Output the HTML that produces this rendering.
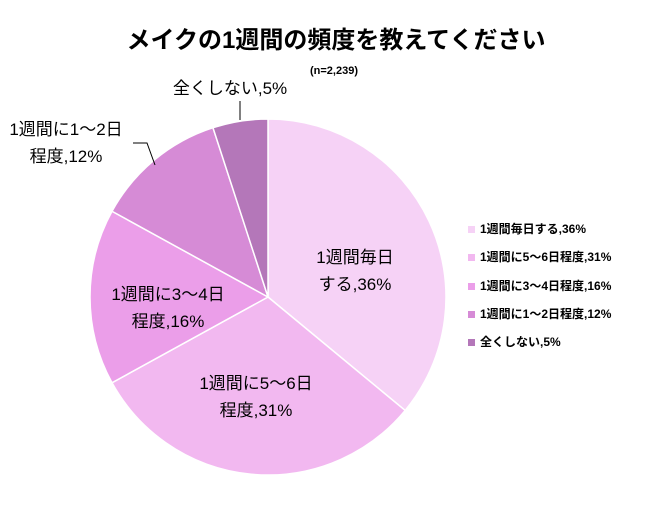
<!DOCTYPE html>
<html><head><meta charset="utf-8"><style>
body{margin:0;background:#fff;}
svg text{font-family:"Liberation Sans","Noto Sans CJK JP",sans-serif;}
</style></head><body>
<svg id="chart" width="651" height="500" viewBox="0 0 651 500">
<text x="336" y="48" text-anchor="middle" font-size="24" font-weight="bold" fill="#000">メイクの1週間の頻度を教えてください</text>
<text x="334" y="74" text-anchor="middle" font-size="11" font-weight="bold" fill="#000">(n=2,239)</text>
<g id="slices"></g>
<g id="labels" font-size="17" fill="#000"></g>
<g id="legend"></g>
</svg>
<script>
const categories=["1週間毎日する","1週間に5〜6日程度","1週間に3〜4日程度","1週間に1〜2日程度","全くしない"];
const values=[36,31,16,12,5];
const colors=["#f6d2f6","#f2b8f0","#eb9ee9","#d68bd6","#b477b9"];
const ns="http://www.w3.org/2000/svg";
const cx=268,cy=297,r=178;
const total=values.reduce((a,b)=>a+b,0);
const sg=document.getElementById('slices');
let a0=0;
values.forEach((v,i)=>{
  const a1=a0+v/total*2*Math.PI;
  const p=(a)=>[cx+r*Math.sin(a),cy-r*Math.cos(a)];
  const [x0,y0]=p(a0),[x1,y1]=p(a1);
  const path=document.createElementNS(ns,'path');
  path.setAttribute('d',`M${cx},${cy}L${x0},${y0}A${r},${r} 0 ${a1-a0>Math.PI?1:0} 1 ${x1},${y1}Z`);
  path.setAttribute('fill',colors[i]);path.setAttribute('stroke','#fff');path.setAttribute('stroke-width','1.5');
  
  
  sg.appendChild(path);
  a0=a1;
});
const lg=document.getElementById('labels');
function txt(lines,x,y,name){
  const t=document.createElementNS(ns,'text');
  t.setAttribute('text-anchor','middle');
  
  
  lines.forEach((l,k)=>{const s=document.createElementNS(ns,'tspan');s.setAttribute('x',x);s.setAttribute('y',y+k*27);s.textContent=l;t.appendChild(s);});
  lg.appendChild(t);
}
function line(d,name){
  const p=document.createElementNS(ns,'path');
  p.setAttribute('d',d);p.setAttribute('stroke','#000');p.setAttribute('fill','none');p.setAttribute('stroke-width','1');
  
  
  lg.appendChild(p);
}
txt(["1週間毎日","する,"+values[0]+"%"],355,263,'label-daily');
txt(["1週間に5〜6日","程度,"+values[1]+"%"],256,389,'label-5-6');
txt(["1週間に3〜4日","程度,"+values[2]+"%"],168,300,'label-3-4');
txt(["1週間に1〜2日","程度,"+values[3]+"%"],66,135,'label-1-2');
txt(["全くしない,"+values[4]+"%"],230,94,'label-never');
line("M240,101L240,120",'leader-never');
line("M133,143L147,143L155,165",'leader-1-2');
const leg=document.getElementById('legend');
const ly=[233,261,290,318,346];
categories.forEach((c,i)=>{
  const g=document.createElementNS(ns,'g');
  
  
  const rc=document.createElementNS(ns,'rect');
  rc.setAttribute('x',468);rc.setAttribute('y',ly[i]-7);rc.setAttribute('width',7);rc.setAttribute('height',7);rc.setAttribute('fill',colors[i]);
  g.appendChild(rc);
  const t=document.createElementNS(ns,'text');
  t.setAttribute('x',480);t.setAttribute('y',ly[i]);t.setAttribute('font-size','12');t.setAttribute('font-weight','bold');
  t.textContent=c+","+values[i]+"%";
  g.appendChild(t);
  leg.appendChild(g);
});
</script>
</body></html>
